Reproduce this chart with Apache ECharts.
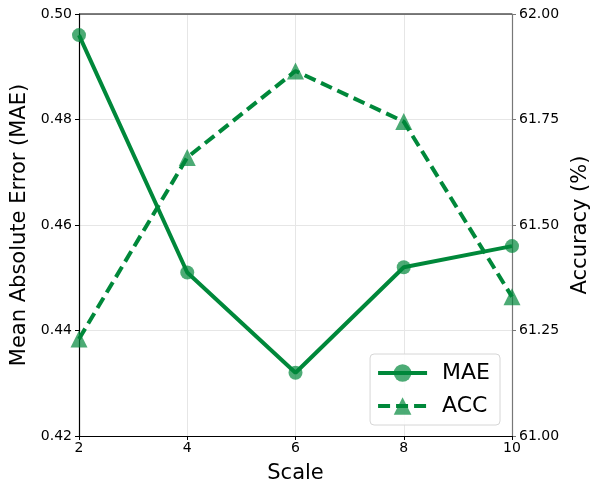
<!DOCTYPE html>
<html><head><meta charset="utf-8">
<script src="https://cdn.jsdelivr.net/npm/echarts@6/dist/echarts.min.js"></script>
<style>html,body{margin:0;padding:0;background:#fff}#c{width:590px;height:486px}</style>
</head><body><div id="c"></div>
<script>
var scales = [2, 4, 6, 8, 10];
var maeValues = [0.496, 0.451, 0.432, 0.452, 0.456];
var accValues = [61.23, 61.66, 61.865, 61.745, 61.33];
var green = '#00883a';
var markerColor = 'rgba(0,136,58,0.7)';
var font = 'DejaVu Sans';
var chart = echarts.init(document.getElementById('c'));
chart.setOption({
  animation: false,
  backgroundColor: '#fff',
  grid: {left: 79, right: 78, top: 14, bottom: 50, outerBoundsMode: 'none', containLabel: false},
  legend: {
    right: 90, bottom: 61, orient: 'vertical',
    itemWidth: 49, itemHeight: 22, itemGap: 11,
    padding: [8, 10, 8, 6],
    borderColor: '#d6d6d6', borderWidth: 1, borderRadius: 4,
    backgroundColor: 'rgba(255,255,255,0.85)',
    lineStyle: {width: 4},
    textStyle: {fontFamily: font, fontSize: 22, color: '#000', padding: [0,0,0,10]},
    data: [{name: 'MAE'}, {name: 'ACC'}]
  },
  xAxis: {
    type: 'value', min: 2, max: 10, interval: 2,
    name: 'Scale', nameLocation: 'middle', nameGap: 27,
    nameTextStyle: {fontFamily: font, fontSize: 21, color: '#000'},
    axisLine: {lineStyle: {color: '#000', width: 1.2}},
    axisTick: {show: true, length: 4, lineStyle: {color: '#000'}},
    axisLabel: {fontFamily: font, fontSize: 14, color: '#000', margin: 5},
    splitLine: {show: true, lineStyle: {color: '#e6e6e6', width: 1}}
  },
  yAxis: [{
    type: 'value', min: 0.42, max: 0.50, interval: 0.02, position: 'left',
    name: 'Mean Absolute Error (MAE)', nameLocation: 'middle', nameGap: 44,
    nameTextStyle: {fontFamily: font, fontSize: 21, color: '#000'},
    axisLine: {show: true, lineStyle: {color: '#000', width: 1.2}},
    axisTick: {show: true, length: 4, lineStyle: {color: '#000'}},
    axisLabel: {fontFamily: font, fontSize: 14, color: '#000', margin: 7,
      formatter: function(v){return v.toFixed(2);}},
    splitLine: {show: true, lineStyle: {color: '#e6e6e6', width: 1}}
  }, {
    type: 'value', min: 61.0, max: 62.0, interval: 0.25, position: 'right',
    name: 'Accuracy (%)', nameLocation: 'middle', nameGap: 56, nameRotate: 90,
    nameTextStyle: {fontFamily: font, fontSize: 21, color: '#000'},
    axisLine: {show: true, lineStyle: {color: '#777', width: 1.2}},
    axisTick: {show: true, length: 4, lineStyle: {color: '#777'}},
    axisLabel: {fontFamily: font, fontSize: 14, color: '#000', margin: 7,
      formatter: function(v){return v.toFixed(2);}},
    splitLine: {show: false}
  }],
  graphic: [{type: 'line', shape: {x1: 79, y1: 14, x2: 512, y2: 14}, style: {stroke: '#000', lineWidth: 1.2}, z: 10}],
  series: [{
    name: 'MAE', type: 'line', yAxisIndex: 0,
    data: scales.map(function(s,i){return [s, maeValues[i]];}),
    symbol: 'circle', symbolSize: 14,
    lineStyle: {color: green, width: 4},
    itemStyle: {color: markerColor, borderWidth: 0},
    z: 3
  }, {
    name: 'ACC', type: 'line', yAxisIndex: 1,
    data: scales.map(function(s,i){return [s, accValues[i]];}),
    symbol: 'triangle', symbolSize: 17,
    lineStyle: {color: green, width: 4, type: [12, 6]},
    itemStyle: {color: markerColor, borderWidth: 0},
    z: 3
  }]
});
</script></body></html>
